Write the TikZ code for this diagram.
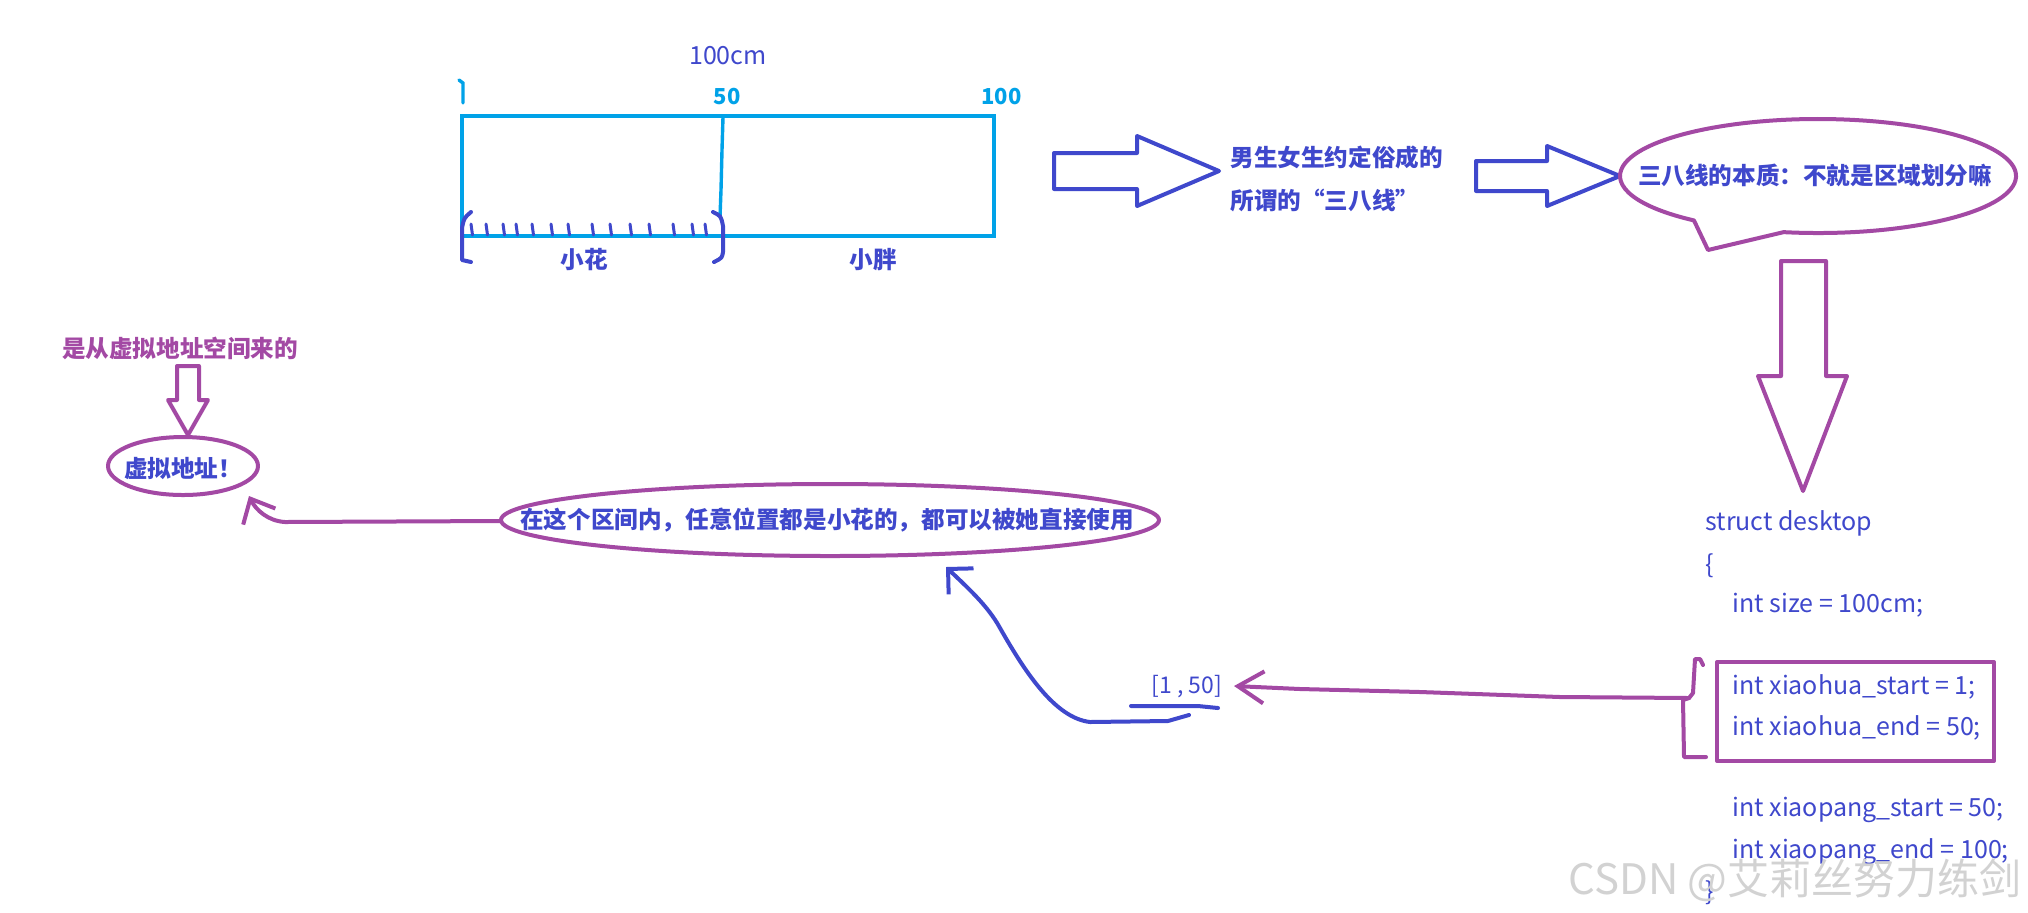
\documentclass[tikz,border=0pt]{standalone}
\usepackage{fontspec}
\setmainfont{Noto Sans CJK SC}
\usetikzlibrary{arrows.meta}
\definecolor{pblue}{RGB}{63,72,204}
\definecolor{pcyan}{RGB}{0,162,232}
\definecolor{ppurple}{RGB}{163,73,164}
\tikzset{
  lbl/.style={font=\fontsize{11.8}{14}\selectfont\bfseries, text=pblue, inner sep=0pt},
  plbl/.style={font=\fontsize{11.8}{14}\selectfont\bfseries, text=ppurple, inner sep=0pt},
  codetxt/.style={font=\fontsize{12.5}{14}\selectfont, text=pblue, anchor=west, inner sep=0pt},
  plaintxt/.style={font=\fontsize{11.5}{13}\selectfont, text=pblue, inner sep=0pt},
  hand/.style={font=\fontsize{11}{13}\selectfont\bfseries, text=pcyan, inner sep=0pt},
  bline/.style={draw=pblue, line width=2pt, line join=round, line cap=round},
  pline/.style={draw=ppurple, line width=2pt, line join=round, line cap=round},
  cline/.style={draw=pcyan, line width=1.7pt},
}
\begin{document}
\begin{tikzpicture}[x=0.5pt,y=-0.5pt]
\useasboundingbox (0,0) rectangle (2028,912);
\fill[white] (0,0) rectangle (2028,912);

% ---- desk ----
\node[plaintxt, font=\fontsize{12.5}{14}\selectfont] (t100) at (728,56) {100cm};
\draw[cline] (462,116) rectangle (994,236);
\draw[cline] (723,117) -- (722,150) -- (721,190) -- (720,217);
\draw[cline, line cap=round] (459,80) -- (463,83) -- (463,103);
\node[hand] (m50) at (727,97) {50};
\node[hand, anchor=west] (m100) at (981,97) {100};
\foreach \x in {471,486,503,516,532,551,568,592,610,630,649,673,692,705}
  \draw[bline, line width=1.5pt] (\x,224) -- (\x+1.5,235);
\draw[bline] (471,212) .. controls (464,218) .. (462,228) -- (462,260) -- (471,262);
\draw[bline] (713,212) .. controls (721,216) .. (723,226) -- (723,252) .. controls (722,258) .. (714,262);
\node[lbl] (xh) at (584,260) {小花};
\node[lbl] (xp) at (873,260) {小胖};

% ---- arrow 1 and text ----
\draw[bline] (1054,153) -- (1137,153) -- (1137,136) -- (1219,171) -- (1137,206) -- (1137,189) -- (1054,189) -- cycle;
\node[lbl, anchor=west] (c1) at (1230,157) {男生女生约定俗成的};
\node[lbl, anchor=west] (c2) at (1230,200) {所谓的“三八线”};

% ---- arrow 2 and bubble ----
\draw[bline] (1476,161) -- (1547,161) -- (1547,146) -- (1620,176) -- (1547,206) -- (1547,191) -- (1476,191) -- cycle;
\node[lbl] (bub) at (1815,175) {三八线的本质：不就是区域划分嘛};
\draw[pline] (1818,176) ++(100:198 and 57) arc[start angle=100, end angle=-231.2, x radius=198, y radius=57] -- (1708,250) -- cycle;

% ---- down arrow ----
\draw[pline] (1781,261) -- (1826,261) -- (1826,376) -- (1847,376) -- (1803,491) -- (1758,376) -- (1781,376) -- cycle;

% ---- code ----
\node[codetxt] (l1) at (1705,523) {struct desktop};
\node[codetxt] (l2) at (1705,566) {\{};
\node[codetxt] (l3) at (1732,605) {int size = 100cm;};
\node[codetxt] (l4) at (1732,687) {int xiaohua\_start = 1;};
\node[codetxt] (l5) at (1732,728) {int xiaohua\_end = 50;};
\node[codetxt] (l6) at (1732,810) {int xiaopang\_start = 50;};
\node[codetxt] (l7) at (1732,852) {int xiaopang\_end = 100;};
\node[codetxt] (l8) at (1705,893) {\}};
\draw[pline] (1717,662) rectangle (1994,761);
\draw[pline] (1703,665) -- (1700,659) -- (1695,659) -- (1693,693) -- (1689,698) -- (1683,700) -- (1684,757) -- (1706,757);
\coordinate (braceP) at (1689,698);

% ---- [1,50] ----
\node[plaintxt] (r150) at (1187,687) {[1 , 50]};
\coordinate (r150tip) at (1234,686);
\draw[pline, -{Straight Barb[length=13pt,width=16pt]}] (braceP) -- (1560,697) -- (1420,692) -- (1300,689) -- (r150tip);
\draw[bline] (1131,706) -- (1198,706) -- (1218,708);

% ---- big ellipse ----
\node[lbl] (big) at (827,520) {在这个区间内，任意位置都是小花的，都可以被她直接使用};
\draw[pline] (830,520) ellipse[x radius=329, y radius=36];
\coordinate (bigW) at (501,521);
\coordinate (bigTip) at (946,567);
\coordinate (ulS) at (1189,715);
\draw[bline, -{Straight Barb[length=9pt,width=18pt]}] (ulS) -- (1168,721) -- (1090,722) .. controls (1055,718) and (1025,672) .. (1000,628) .. controls (988,606) and (968,588) .. (bigTip);

% ---- left ----
\node[plbl] (src) at (180,348) {是从虚拟地址空间来的};
\draw[pline] (177,366) -- (199,366) -- (199,400) -- (208,400) -- (188,435) -- (168,400) -- (177,400) -- cycle;
\node[lbl] (va) at (183,469) {虚拟地址！};
\draw[pline] (183,466) ellipse[x radius=75, y radius=29];
\coordinate (vaTip) at (249,496);
\draw[pline, -{Straight Barb[length=10pt,width=18pt]}] (bigW) -- (285,522) .. controls (268,521) and (256,510) .. (vaTip);

% ---- watermark ----
\node[font=\fontsize{21}{24}\selectfont, text=gray!35, anchor=east, inner sep=0pt] (wm) at (2022,880) {CSDN @艾莉丝努力练剑};
\end{tikzpicture}
\end{document}
